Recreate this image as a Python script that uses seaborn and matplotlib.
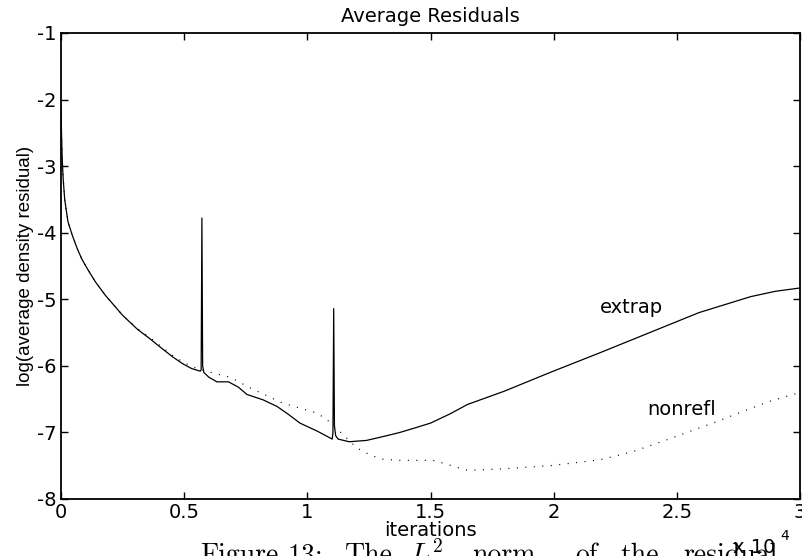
import numpy as np
import pandas as pd
import matplotlib
matplotlib.use("Agg")
import matplotlib.pyplot as plt
import seaborn as sns

# ---- data (iterations in units of 10^4) ----
x_extrap = [0, 0.002, 0.005, 0.009, 0.015, 0.028, 0.045, 0.065, 0.085, 0.11, 0.14, 0.18, 0.25,
            0.31, 0.36, 0.40, 0.455, 0.495, 0.53, 0.565, 0.569, 0.572, 0.575, 0.58, 0.60, 0.633,
            0.68, 0.72, 0.755, 0.82, 0.877, 0.92, 0.97, 1.04, 1.101, 1.104, 1.107, 1.11, 1.115,
            1.125, 1.17, 1.24, 1.31, 1.376, 1.43, 1.5, 1.58, 1.65, 1.8, 1.985, 2.19, 2.39, 2.59,
            2.8, 2.9, 3.0]
y_extrap = [-2.1, -2.5, -2.9, -3.2, -3.5, -3.83, -4.03, -4.23, -4.4, -4.56, -4.74, -4.94, -5.24,
            -5.45, -5.59, -5.71, -5.87, -5.97, -6.04, -6.08, -6.06, -3.78, -6.0, -6.1, -6.17, -6.24,
            -6.24, -6.32, -6.43, -6.51, -6.61, -6.72, -6.86, -6.98, -7.1, -7.0, -5.14, -6.9, -7.05,
            -7.1, -7.14, -7.12, -7.06, -7.0, -6.94, -6.86, -6.72, -6.58, -6.38, -6.1, -5.8, -5.5, -5.2,
            -4.96, -4.88, -4.83]

x_nonrefl = [0, 0.002, 0.005, 0.009, 0.015, 0.028, 0.045, 0.065, 0.085, 0.11, 0.14, 0.18, 0.25,
             0.31, 0.36, 0.40, 0.455, 0.495, 0.53, 0.57, 0.62, 0.686, 0.767, 0.9, 1.04, 1.09, 1.15,
             1.2, 1.25, 1.3, 1.376, 1.51, 1.55, 1.65, 1.78, 1.985, 2.19, 2.32, 2.46, 2.66, 2.87, 3.0]
y_nonrefl = [-2.1, -2.5, -2.9, -3.2, -3.5, -3.83, -4.03, -4.23, -4.4, -4.56, -4.74, -4.94, -5.24,
             -5.44, -5.57, -5.69, -5.85, -5.94, -6.01, -6.06, -6.11, -6.17, -6.33, -6.56, -6.71,
             -6.84, -7.05, -7.23, -7.33, -7.4, -7.42, -7.42, -7.46, -7.57, -7.55, -7.5, -7.41,
             -7.29, -7.11, -6.84, -6.54, -6.40]

x_ticks = [0, 0.5, 1, 1.5, 2, 2.5, 3]
x_ticklabels = ["0", "0.5", "1", "1.5", "2", "2.5", "3"]
y_ticks = [-8, -7, -6, -5, -4, -3, -2, -1]
y_ticklabels = ["-8", "-7", "-6", "-5", "-4", "-3", "-2", "-1"]

title = "Average Residuals"
xlabel = "iterations"
ylabel = "log(average density residual)"
caption_words = ["Figure", "13:", "The", r"$L^2$", "norm", "of", "the", "residual"]
caption_x_px = [200, 288, 345, 410, 472, 575, 620, 683]

sns.set_theme(style="white")
plt.rcParams["font.family"] = ["DejaVu Sans"]

fig = plt.figure(figsize=(8.02, 5.56), dpi=100)
W, H = 802, 556
ax = fig.add_axes([61 / W, 1 - 499 / H, (800 - 61) / W, (499 - 33) / H])

df_e = pd.DataFrame({"x": x_extrap, "y": y_extrap})
df_n = pd.DataFrame({"x": x_nonrefl, "y": y_nonrefl})
sns.lineplot(data=df_e, x="x", y="y", ax=ax, color="black", lw=0.9, sort=False, estimator=None)
sns.lineplot(data=df_n, x="x", y="y", ax=ax, color="black", lw=0.9, sort=False, estimator=None,
             linestyle=(0, (0.8, 6)))

ax.set_xlim(0, 3)
ax.set_ylim(-8, -1)
ax.set_xticks(x_ticks)
ax.set_xticklabels(x_ticklabels)
ax.set_yticks(y_ticks)
ax.set_yticklabels(y_ticklabels)
ax.tick_params(direction="in", length=5, width=1, colors="black", labelsize=14,
               top=True, right=True, bottom=True, left=True, pad=3)
for s in ax.spines.values():
    s.set_color("black")
    s.set_linewidth(1.3)
    s.set_visible(True)

ax.set_title(title, fontsize=14, color="black", pad=8)
ax.set_xlabel(xlabel, fontsize=14, color="black", labelpad=-1)
ax.set_ylabel(ylabel, fontsize=13.5, color="black", family="Liberation Sans", labelpad=2)

ax.text(2.314, -5.13, "extrap", fontsize=14, ha="center", va="center", color="black")
ax.text(2.52, -6.65, "nonrefl", fontsize=14, ha="center", va="center", color="black")

# "x 10^4" multiplier
fig.text(733 / W, 1 - 553 / H, "x 10", fontsize=14, ha="left", va="baseline", color="black")
fig.text(780 / W, 1 - 540 / H, "4", fontsize=10, ha="left", va="baseline", color="black")

# clipped caption below the plot
for word, xp in zip(caption_words, caption_x_px):
    fig.text(xp / W, 1 - 563 / H, word, fontsize=20, ha="left", va="baseline",
             color="black", family="cmr10", math_fontfamily="cm")

fig.savefig("out.png", dpi=100)
